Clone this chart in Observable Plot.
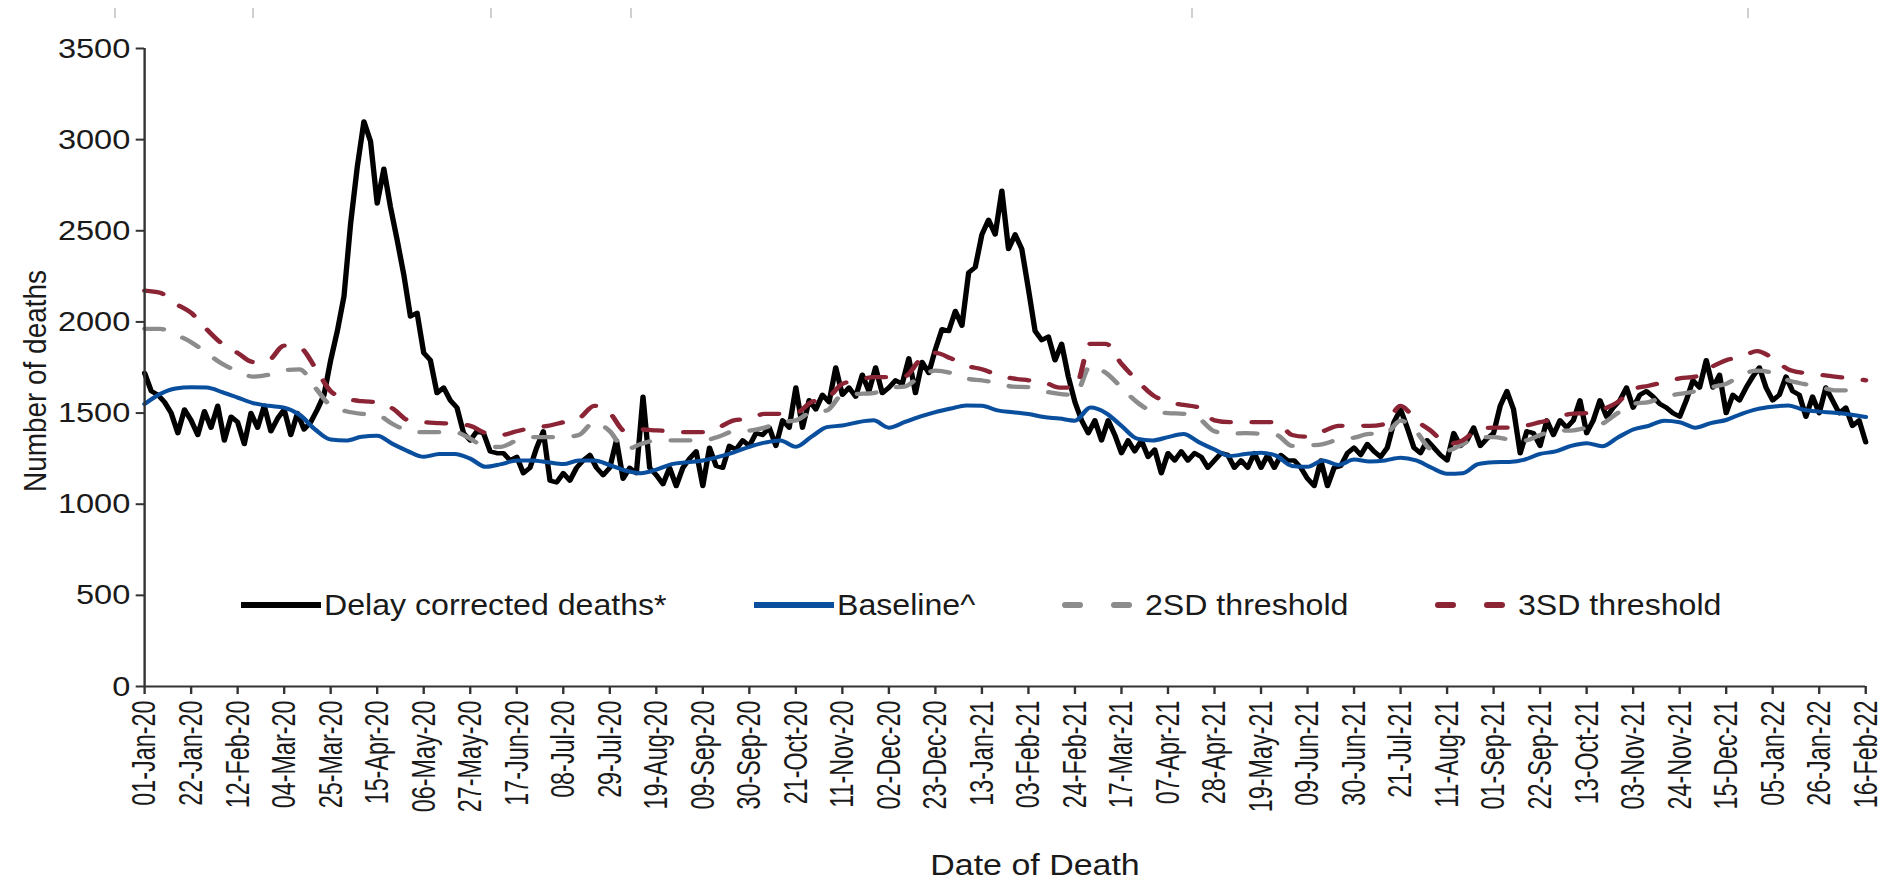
<!DOCTYPE html>
<html><head><meta charset="utf-8">
<script src="https://cdn.jsdelivr.net/npm/d3@7"></script>
<script src="https://cdn.jsdelivr.net/npm/@observablehq/plot@0.6"></script>
<style>
body{margin:0;background:#fff;}
#wrap{position:relative;width:1883px;height:888px;font-family:"Liberation Sans",Arial,sans-serif;color:#1a1a1a;overflow:hidden;}
#wrap > svg{position:absolute;left:0;top:0;}
.lg{position:absolute;height:36px;font-size:30px;white-space:nowrap;}
.lg svg{position:absolute;left:0;top:12px;}
.lg span{position:absolute;left:83px;top:0px;line-height:36px;transform:scaleX(1.07);transform-origin:0 50%;}
.ttl{position:absolute;white-space:nowrap;}
.stub{position:absolute;top:8px;width:2px;height:10px;background:#d0d0d0;}
</style></head><body><div id="wrap"></div>
<script>
// ---- data ----
const startDate = "2020-01-01";
// Delay corrected deaths, one value every 3 days from 01-Jan-20
const deathValues = [
1720,1620,1600,1560,1500,1390,1520,1460,1380,1510,
1420,1540,1350,1480,1450,1330,1500,1420,1540,1400,
1470,1520,1380,1500,1410,1450,1520,1600,1790,1950,
2140,2540,2850,3100,2990,2650,2840,2630,2450,2260,
2030,2050,1830,1790,1610,1640,1570,1530,1390,1350,
1400,1390,1290,1280,1280,1240,1260,1170,1200,1310,
1400,1130,1120,1170,1130,1200,1240,1270,1200,1160,
1200,1350,1140,1200,1170,1590,1200,1160,1110,1200,
1100,1200,1250,1290,1100,1310,1210,1200,1320,1300,
1350,1320,1390,1380,1420,1320,1460,1420,1640,1420,
1570,1520,1600,1560,1750,1600,1640,1590,1710,1620,
1750,1610,1640,1680,1660,1800,1610,1780,1720,1850,
1960,1950,2060,1980,2270,2300,2480,2560,2480,2720,
2400,2480,2400,2180,1950,1900,1920,1790,1880,1700,
1560,1460,1390,1460,1350,1460,1380,1280,1350,1290,
1350,1260,1300,1170,1280,1240,1290,1240,1280,1260,
1200,1240,1280,1270,1200,1240,1200,1280,1200,1270,
1200,1270,1240,1240,1200,1140,1100,1240,1100,1200,
1210,1280,1310,1270,1330,1290,1260,1310,1450,1520,
1420,1310,1280,1350,1310,1270,1240,1390,1320,1350,
1420,1320,1360,1390,1540,1620,1520,1280,1400,1390,
1320,1460,1380,1460,1420,1460,1570,1390,1460,1570,
1480,1530,1570,1640,1530,1600,1620,1590,1550,1530,
1500,1480,1570,1680,1640,1790,1640,1710,1500,1600,
1570,1640,1700,1750,1640,1570,1600,1700,1620,1600,
1480,1590,1500,1640,1570,1500,1530,1430,1460,1340];
// Baseline, one value every 7 days from 01-Jan-20
const baselineValues = [
1550,1605,1635,1642,1640,1615,1585,1555,
1540,1530,1490,1410,1355,1350,1370,1375,
1330,1290,1260,1275,1276,1250,1205,1220,
1240,1240,1230,1220,1240,1240,1215,1185,
1170,1190,1220,1230,1240,1260,1285,1315,
1338,1350,1315,1370,1423,1432,1450,1460,
1420,1450,1480,1505,1525,1542,1540,1515,
1505,1495,1478,1470,1458,1530,1500,1430,
1360,1350,1368,1385,1340,1300,1265,1275,
1283,1265,1210,1205,1240,1215,1245,1235,
1240,1255,1240,1200,1167,1170,1220,1230,
1232,1245,1276,1290,1320,1335,1318,1365,
1410,1430,1458,1450,1420,1445,1462,1496,
1522,1535,1542,1518,1508,1502,1492,1478];
// 2SD threshold, every 7 days
const sd2Values = [
1962,1962,1930,1889,1830,1770,1730,1700,
1710,1735,1740,1640,1540,1510,1496,1490,
1440,1404,1395,1395,1395,1360,1313,1315,
1350,1368,1368,1368,1380,1450,1400,1300,
1330,1350,1350,1350,1350,1370,1400,1404,
1420,1450,1460,1505,1514,1600,1605,1610,
1640,1645,1700,1733,1720,1690,1679,1665,
1645,1642,1620,1605,1600,1760,1720,1640,
1560,1510,1500,1496,1470,1400,1386,1390,
1386,1380,1320,1322,1330,1355,1365,1386,
1386,1459,1400,1300,1294,1330,1368,1368,
1355,1350,1380,1404,1404,1420,1441,1500,
1551,1560,1590,1605,1620,1642,1660,1710,
1733,1720,1680,1660,1645,1624,1624,1610];
// 3SD threshold, every 7 days
const sd3Values = [
2172,2160,2100,2050,1960,1880,1830,1780,
1790,1870,1860,1750,1620,1580,1565,1560,
1525,1460,1450,1445,1440,1430,1390,1380,
1400,1420,1430,1450,1470,1540,1500,1400,
1410,1405,1400,1395,1395,1420,1460,1470,
1496,1496,1500,1560,1580,1660,1680,1697,
1697,1700,1790,1830,1800,1760,1740,1710,
1690,1680,1670,1640,1640,1880,1880,1770,
1680,1600,1560,1545,1530,1460,1450,1450,
1450,1450,1380,1370,1400,1430,1430,1430,
1440,1540,1460,1400,1330,1350,1410,1420,
1420,1430,1450,1470,1496,1500,1520,1560,
1630,1650,1670,1690,1700,1750,1790,1810,
1840,1800,1740,1720,1710,1700,1690,1680];
const xTickLabels = ["01-Jan-20","22-Jan-20","12-Feb-20","04-Mar-20","25-Mar-20","15-Apr-20","06-May-20","27-May-20","17-Jun-20","08-Jul-20","29-Jul-20","19-Aug-20","09-Sep-20","30-Sep-20","21-Oct-20","11-Nov-20","02-Dec-20","23-Dec-20","13-Jan-21","03-Feb-21","24-Feb-21","17-Mar-21","07-Apr-21","28-Apr-21","19-May-21","09-Jun-21","30-Jun-21","21-Jul-21","11-Aug-21","01-Sep-21","22-Sep-21","13-Oct-21","03-Nov-21","24-Nov-21","15-Dec-21","05-Jan-22","26-Jan-22","16-Feb-22"];
const yTicks = [0,500,1000,1500,2000,2500,3000,3500];
const seriesNames = ["Delay corrected deaths*","Baseline^","2SD threshold","3SD threshold"];
const yTitle = "Number of deaths";
const xTitle = "Date of Death";

// ---- build ----
const parse = d3.utcParse("%d-%b-%y");
const fmt = d3.utcFormat("%d-%b-%y");
const t0 = d3.utcParse("%Y-%m-%d")(startDate);
const series = (vals, step) => vals.map((v, i) => ({date: d3.utcDay.offset(t0, i * step), value: v}));
const deaths = series(deathValues, 3);
const baseline = series(baselineValues, 7);
const sd2 = series(sd2Values, 7);
const sd3 = series(sd3Values, 7);
const xTicks = xTickLabels.map(parse);

const colors = ["#000000", "#0a4f9e", "#8c8c8c", "#8b2434"];
const dash = "16,18";
// the source picture is stretched horizontally; draw narrower and stretch
const K = 1.19;
const W = 1883, H = 888;
const Wn = Math.round(W / K);

const chart = Plot.plot({
  width: Wn, height: H,
  marginLeft: Math.round(144 / K), marginRight: Math.round(18 / K), marginTop: 48, marginBottom: 202,
  style: {fontFamily: "'Liberation Sans', Arial, sans-serif", background: "#fff", color: "#1a1a1a"},
  x: {type: "utc", domain: [xTicks[0], xTicks[xTicks.length - 1]]},
  y: {domain: [0, 3500]},
  marks: [
    Plot.line(deaths, {x: "date", y: "value", stroke: colors[0], strokeWidth: 4.5, strokeLinejoin: "round"}),
    Plot.line(baseline, {x: "date", y: "value", stroke: colors[1], strokeWidth: 4, curve: "monotone-x"}),
    Plot.line(sd2, {x: "date", y: "value", stroke: colors[2], strokeWidth: 4.3, strokeDasharray: dash, strokeLinecap: "round", curve: "monotone-x"}),
    Plot.line(sd3, {x: "date", y: "value", stroke: colors[3], strokeWidth: 4.3, strokeDasharray: dash, strokeLinecap: "round", curve: "monotone-x"}),
    Plot.ruleY([0], {stroke: "#333", strokeWidth: 2}),
    Plot.ruleX([xTicks[0]], {stroke: "#333", strokeWidth: 2}),
    Plot.axisY({ticks: yTicks, tickFormat: d => String(d), tickSize: 7, tickPadding: 5, fontSize: 28.5, label: null, stroke: "#333", strokeWidth: 2, fill: "#1a1a1a"}),
    Plot.axisX({ticks: xTicks, tickFormat: fmt, tickRotate: -90, tickSize: 8, tickPadding: 6, fontSize: 28.5, label: null, stroke: "#333", strokeWidth: 2, fill: "#1a1a1a"})
  ]
});
// tick text shaping (narrow look along the text direction)
const squeeze = (sel, s) => chart.querySelectorAll(sel).forEach(t => {
  const tr = t.getAttribute("transform");
  if (tr) t.setAttribute("transform", tr + ` scale(${s},1)`);
  else {
    const x = +t.getAttribute("x") || 0, y = +t.getAttribute("y") || 0;
    t.removeAttribute("x"); t.removeAttribute("y");
    t.setAttribute("transform", `translate(${x},${y}) scale(${s},1)`);
  }
});
squeeze('g[aria-label="x-axis tick label"] text', 0.82);
squeeze('g[aria-label="y-axis tick label"] text', 0.96);
chart.setAttribute("width", W);
chart.setAttribute("height", H);
chart.setAttribute("viewBox", `0 0 ${Wn} ${H}`);
chart.setAttribute("preserveAspectRatio", "none");
chart.style.width = W + "px";
chart.style.height = H + "px";
chart.style.maxWidth = "none";
const wrap = document.getElementById("wrap");
wrap.appendChild(chart);

// faint marks at the very top of the source picture
[114, 252, 490, 630, 1191, 1747].forEach(x => {
  const s = document.createElement("div");
  s.className = "stub"; s.style.left = x + "px";
  wrap.appendChild(s);
});

// legend
const lgLeft = [241, 754, 1062, 1435];
seriesNames.forEach((name, i) => {
  const d = document.createElement("div");
  d.className = "lg";
  d.style.left = lgLeft[i] + "px";
  d.style.top = "587px";
  const dashed = i >= 2;
  d.innerHTML = (dashed
    ? `<svg width="80" height="12"><line x1="3" y1="6" x2="78" y2="6" stroke="${colors[i]}" stroke-width="6" stroke-dasharray="15,34" stroke-linecap="round"/></svg>`
    : `<svg width="80" height="12"><line x1="0" y1="6" x2="80" y2="6" stroke="${colors[i]}" stroke-width="6"/></svg>`)
    + `<span>${name}</span>`;
  wrap.appendChild(d);
});
// axis titles
const yt = document.createElement("div");
yt.className = "ttl"; yt.textContent = yTitle;
yt.style.fontSize = "31px";
yt.style.left = "36px"; yt.style.top = "381px";
yt.style.transform = "translate(-50%,-50%) rotate(-90deg) scaleX(0.9)";
wrap.appendChild(yt);
const xt = document.createElement("div");
xt.className = "ttl"; xt.textContent = xTitle;
xt.style.fontSize = "29px";
xt.style.left = "1035px"; xt.style.top = "865px";
xt.style.transform = "translate(-50%,-50%) scaleX(1.17)";
wrap.appendChild(xt);
</script></body></html>
